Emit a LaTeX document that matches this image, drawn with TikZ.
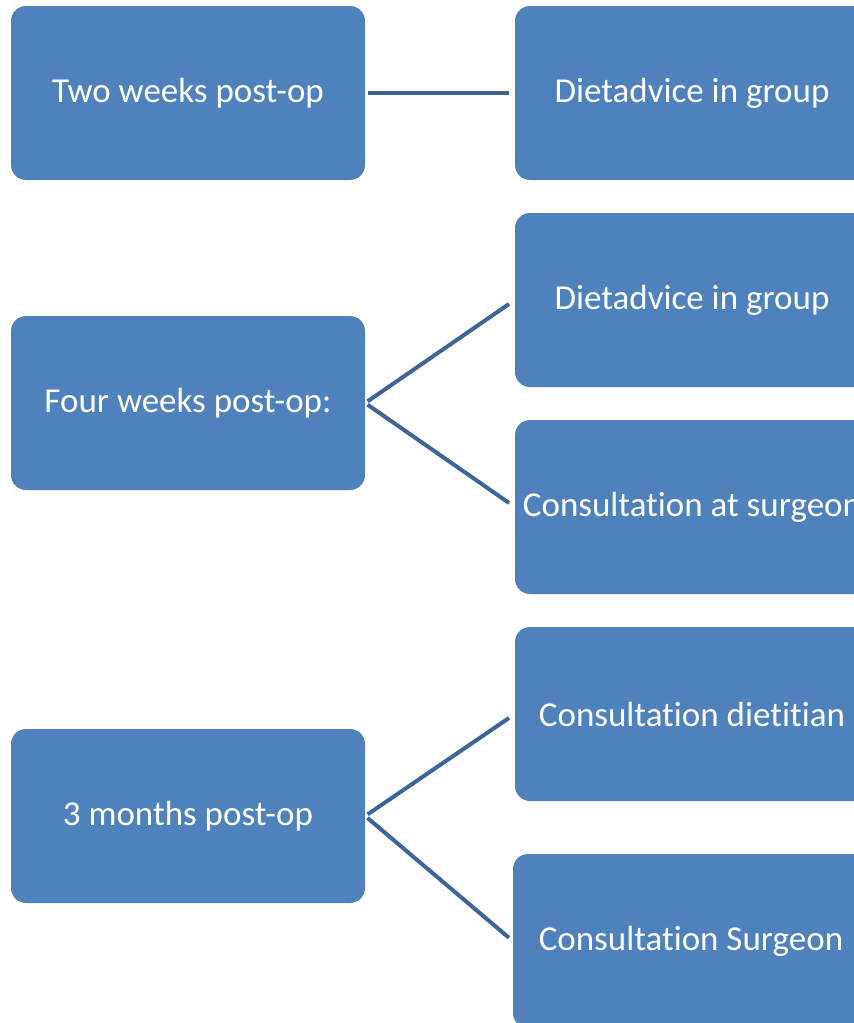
\documentclass[tikz,border=0pt]{standalone}
\usepackage{fontspec}
\setmainfont[Ligatures={NoCommon,NoRequired}]{Carlito}
\definecolor{boxblue}{HTML}{4F81BD}
\definecolor{lineblue}{HTML}{3F6598}
\begin{document}
\begin{tikzpicture}[x=1pt,y=-1pt,
  box/.style={draw=none, fill=boxblue, rounded corners=15pt, text=white,
    minimum width=354pt, minimum height=174pt, inner sep=0pt,
    font=\fontsize{35}{40}\selectfont},
  conn/.style={draw=lineblue, line width=4pt, shorten <=3pt, shorten >=6pt}]
\useasboundingbox (0,0) rectangle (854,1023);
\clip (0,0) rectangle (854,1023);
\node[box] (l1) at (188,93) {Two weeks post-op};
\node[box] (l2) at (188,403) {Four weeks post-op:};
\node[box] (l3) at (188,816) {3 months post-op};
\node[box] (r1) at (692,93) {Dietadvice in group};
\node[box] (r2) at (692,300) {Dietadvice in group};
\node[box] (r3) at (692,507) {Consultation at surgeon};
\node[box] (r4) at (692,714) {Consultation dietitian};
\node[box, minimum width=356pt] (r5) at (691,941) {Consultation Surgeon};
\draw[conn] (l1.east) -- (r1.west);
\draw[conn, shorten >=7pt] (l2.east) -- (r2.west);
\draw[conn, shorten >=7pt] (l2.east) -- (r3.west);
\draw[conn, shorten >=7pt] (l3.east) -- (r4.west);
\draw[conn, shorten >=5pt] (l3.east) -- (r5.west);
\end{tikzpicture}
\end{document}
